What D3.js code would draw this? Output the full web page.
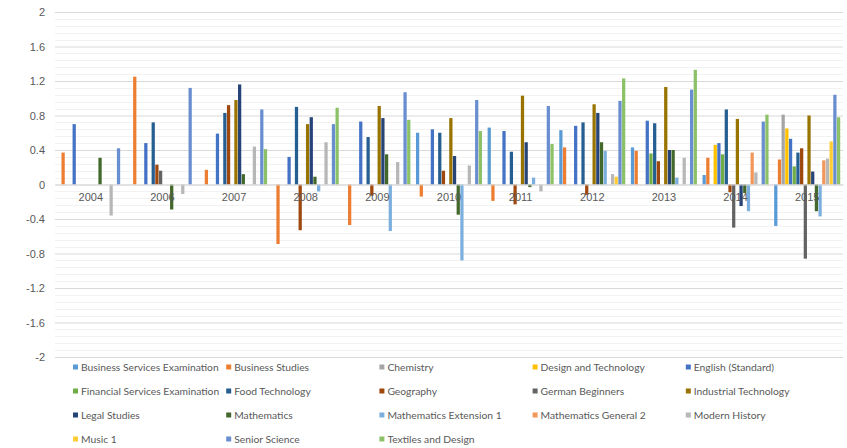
<!DOCTYPE html>
<html>
<head>
<meta charset="utf-8">
<script src="https://cdn.jsdelivr.net/npm/d3@7"></script>
<style>
  html, body { margin: 0; padding: 0; background: #ffffff; }
  svg { display: block; font-family: Lato, "Open Sans", sans-serif; }
</style>
</head>
<body>
<div id="chart"></div>
<script>
// Years on the category axis (2005 is absent in the source)
const years = ['2004', '2006', '2007', '2008', '2009', '2010', '2011', '2012', '2013', '2014', '2015'];

const seriesNames = [
  'Business Services Examination', 'Business Studies', 'Chemistry', 'Design and Technology', 'English (Standard)',
  'Financial Services Examination', 'Food Technology', 'Geography', 'German Beginners', 'Industrial Technology',
  'Legal Studies', 'Mathematics', 'Mathematics Extension 1', 'Mathematics General 2', 'Modern History',
  'Music 1', 'Senior Science', 'Textiles and Design'
];

const seriesColors = [
  '#5B9BD5', '#ED7D31', '#A5A5A5', '#FFC000', '#4472C4',
  '#70AD47', '#255E91', '#9E480E', '#636363', '#997300',
  '#264478', '#43682B', '#7CAFDD', '#F1975A', '#B7B7B7',
  '#FFCD33', '#698ED0', '#8CC168'
];

// one value per year, null = no bar
const businessServicesExam = [null, null, null, null, null, 0.60, 0.66, 0.63, 0.43, 0.11, -0.48];
const businessStudies = [0.37, 1.25, 0.17, -0.69, -0.47, -0.14, -0.19, 0.43, 0.39, 0.31, 0.29];
const chemistry = [null, null, null, null, null, null, null, null, null, null, 0.81];
const designTech = [null, null, null, null, null, null, null, null, null, 0.46, 0.65];
const englishStandard = [0.70, 0.48, 0.59, 0.32, 0.73, 0.64, 0.62, 0.68, 0.74, 0.48, 0.53];
const financialServicesExam = [null, null, null, null, null, null, null, null, 0.36, 0.35, 0.21];
const foodTech = [null, 0.72, 0.83, 0.90, 0.55, 0.60, 0.38, 0.72, 0.71, 0.87, 0.37];
const geography = [null, 0.23, 0.92, -0.53, -0.13, 0.16, -0.23, -0.12, 0.27, -0.09, 0.42];
const germanBeginners = [null, 0.16, null, null, null, null, null, null, null, -0.50, -0.86];
const industrialTech = [null, null, 0.98, 0.70, 0.91, 0.77, 1.03, 0.93, 1.13, 0.76, 0.80];
const legalStudies = [null, null, 1.16, 0.78, 0.77, 0.33, 0.49, 0.83, 0.40, -0.25, 0.15];
const mathematics = [0.31, -0.29, 0.12, 0.09, 0.35, -0.35, -0.03, 0.49, 0.40, -0.10, -0.31];
const mathsExt1 = [null, null, null, -0.08, -0.54, -0.88, 0.08, 0.39, 0.08, -0.31, -0.37];
const mathsGeneral2 = [null, null, null, null, null, null, null, null, null, 0.37, 0.28];
const modernHistory = [-0.36, -0.11, 0.44, 0.49, 0.26, 0.22, -0.08, 0.12, 0.31, 0.14, 0.30];
const music1 = [null, null, null, null, null, null, null, 0.09, null, null, 0.50];
const seniorScience = [0.42, 1.12, 0.87, 0.70, 1.07, 0.98, 0.91, 0.97, 1.10, 0.73, 1.04];
const textilesDesign = [null, null, 0.41, 0.89, 0.75, 0.62, 0.47, 1.23, 1.33, 0.81, 0.78];

const seriesValues = [
  businessServicesExam, businessStudies, chemistry, designTech, englishStandard,
  financialServicesExam, foodTech, geography, germanBeginners, industrialTech,
  legalStudies, mathematics, mathsExt1, mathsGeneral2, modernHistory,
  music1, seniorScience, textilesDesign
];

const yTicks = [-2, -1.6, -1.2, -0.8, -0.4, 0, 0.4, 0.8, 1.2, 1.6, 2];

const width = 847;
const height = 448;
const plot = { left: 55, right: 843, top: 12, bottom: 357 };

const svg = d3.select('#chart')
  .append('svg')
  .attr('width', width)
  .attr('height', height);

const x = d3.scaleBand()
  .domain(years)
  .range([plot.left, plot.right])
  .paddingInner(0.078)
  .paddingOuter(0.039);

const xInner = d3.scaleBand()
  .domain(d3.range(seriesNames.length))
  .range([0, x.bandwidth()])
  .paddingInner(0.12);

const y = d3.scaleLinear()
  .domain([-2, 2])
  .range([plot.bottom, plot.top]);

// minor gridlines every 0.08
const minorTicks = d3.range(-2, 2.0001, 0.08).filter((t) => Math.abs(Math.round(t / 0.4) * 0.4 - t) > 1e-6);
svg.append('g')
  .selectAll('line')
  .data(minorTicks)
  .join('line')
  .attr('x1', plot.left)
  .attr('x2', plot.right)
  .attr('y1', (d) => Math.round(y(d)) + 0.5)
  .attr('y2', (d) => Math.round(y(d)) + 0.5)
  .attr('stroke', '#f2f2f2')
  .attr('stroke-width', 1);

// major gridlines + y labels (plain hyphen for negatives, like the source)
const yAxis = svg.append('g')
  .attr('transform', `translate(${plot.left},0)`)
  .call(d3.axisLeft(y).tickValues(yTicks).tickSize(-(plot.right - plot.left)).tickPadding(10)
    .tickFormat((d) => String(+d.toFixed(1))));
yAxis.select('.domain').remove();
yAxis.selectAll('.tick line').attr('stroke', '#d9d9d9');
yAxis.selectAll('.tick text')
  .attr('fill', '#595959')
  .style('font-size', '11px');

// bars
const groups = svg.append('g')
  .selectAll('g')
  .data(seriesValues)
  .join('g')
  .attr('fill', (d, i) => seriesColors[i]);

groups.selectAll('rect')
  .data((vals, si) => vals.map((v, yi) => ({ v, si, year: years[yi] })).filter((d) => d.v !== null))
  .join('rect')
  .attr('x', (d) => x(d.year) + xInner(d.si))
  .attr('width', xInner.bandwidth())
  .attr('y', (d) => y(Math.max(0, d.v)))
  .attr('height', (d) => Math.abs(y(d.v) - y(0)));

// category axis along zero
const xAxis = svg.append('g')
  .attr('transform', `translate(0,${y(0)})`)
  .call(d3.axisBottom(x).tickSize(0).tickPadding(9));
xAxis.select('.domain').attr('stroke', '#d9d9d9');
xAxis.selectAll('.tick text')
  .attr('fill', '#595959')
  .style('font-size', '11px');

// legend: 5 columns
const legend = svg.append('g')
  .selectAll('g')
  .data(seriesNames)
  .join('g')
  .attr('transform', (d, i) => `translate(${73 + (i % 5) * 153.2},${367 + Math.floor(i / 5) * 24})`);

legend.append('rect')
  .attr('x', 0)
  .attr('y', -2.5)
  .attr('width', 5)
  .attr('height', 5)
  .attr('fill', (d, i) => seriesColors[i]);

legend.append('text')
  .attr('x', 8)
  .attr('dy', '0.35em')
  .attr('fill', '#595959')
  .style('font-size', '10.3px')
  .text((d) => d);
</script>
</body>
</html>
